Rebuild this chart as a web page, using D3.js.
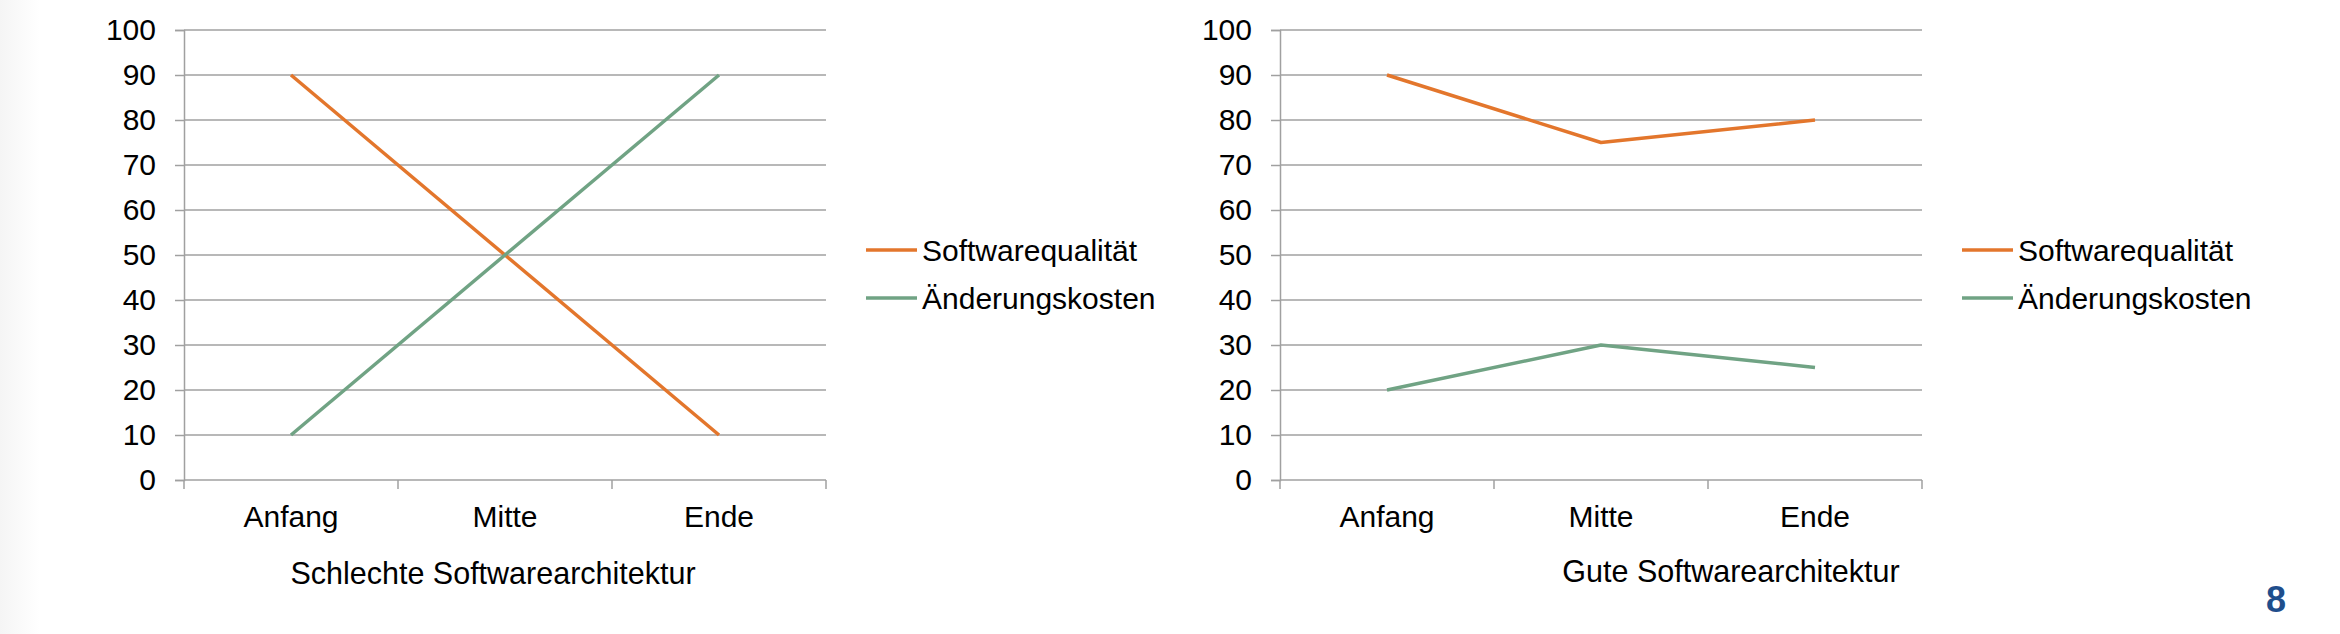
<!DOCTYPE html>
<html>
<head>
<meta charset="utf-8">
<script src="https://cdn.jsdelivr.net/npm/d3@7"></script>
<style>
  html, body { margin: 0; padding: 0; background: #fff; }
  svg { display: block; font-family: "Liberation Sans", Arial, sans-serif; }
</style>
</head>
<body>
<div id="chart"></div>
<script>
// Daten
const categories = ["Anfang", "Mitte", "Ende"];
const seriesNames = ["Softwarequalität", "Änderungskosten"];
const yTicks = [0, 10, 20, 30, 40, 50, 60, 70, 80, 90, 100];

const badQuality = [90, 50, 10];
const badCosts = [10, 50, 90];
const goodQuality = [90, 75, 80];
const goodCosts = [20, 30, 25];

const titles = ["Schlechte Softwarearchitektur", "Gute Softwarearchitektur"];
const pageNumber = "8";

const colors = ["#e3762c", "#70a384"];

const width = 2340, height = 634;

const svg = d3.select("#chart").append("svg")
    .attr("width", width).attr("height", height)
    .attr("viewBox", [0, 0, width, height]);

// leichter grauer Rand links wie auf der Folie
const defs = svg.append("defs");
const grad = defs.append("linearGradient").attr("id", "edge").attr("x1", 0).attr("x2", 1);
grad.append("stop").attr("offset", 0).attr("stop-color", "#f5f5f5");
grad.append("stop").attr("offset", 1).attr("stop-color", "#ffffff");
svg.append("rect").attr("width", width).attr("height", height).attr("fill", "#fff");
svg.append("rect").attr("width", 40).attr("height", height).attr("fill", "url(#edge)");

function drawChart(left, seriesData, title, titleX, titleY) {
    const plotW = 642, top = 30, bottom = 480;

    const x = d3.scaleBand().domain(categories).range([left, left + plotW]).paddingInner(0).paddingOuter(0);
    const y = d3.scaleLinear().domain([0, 100]).range([bottom, top]);

    const g = svg.append("g");

    // Gitterlinien + Y-Achse
    g.append("g").attr("transform", `translate(${left},0)`)
        .call(d3.axisLeft(y).tickValues(yTicks).tickSize(9).tickPadding(19))
        .call(ax => ax.select(".domain").attr("stroke", "#a0a0a0").attr("stroke-width", 1.5))
        .call(ax => ax.selectAll(".tick line").attr("stroke", "#a0a0a0").attr("stroke-width", 1.5))
        .call(ax => ax.selectAll(".tick text").attr("font-size", 30).attr("fill", "#000")
            .attr("font-family", "Liberation Sans, Arial, sans-serif"));

    g.append("g").selectAll("line").data(yTicks.filter(d => d > 0)).join("line")
        .attr("x1", left).attr("x2", left + plotW)
        .attr("y1", d => y(d)).attr("y2", d => y(d))
        .attr("stroke", "#a0a0a0").attr("stroke-width", 1.5);

    // X-Achse
    const xa = g.append("g").attr("transform", `translate(0,${bottom})`);
    xa.append("line").attr("x1", left).attr("x2", left + plotW)
        .attr("stroke", "#a0a0a0").attr("stroke-width", 1.5);
    const bounds = categories.map(c => x(c)).concat([left + plotW]);
    xa.selectAll(".xt").data(bounds).join("line").attr("class", "xt")
        .attr("x1", d => d).attr("x2", d => d).attr("y1", 0).attr("y2", 9)
        .attr("stroke", "#a0a0a0").attr("stroke-width", 1.5);
    xa.selectAll("text").data(categories).join("text")
        .attr("x", d => x(d) + x.bandwidth() / 2).attr("y", 47)
        .attr("text-anchor", "middle").attr("font-size", 30).attr("fill", "#000")
        .text(d => d);

    // Linien
    const line = d3.line()
        .x((d, i) => x(categories[i]) + x.bandwidth() / 2)
        .y(d => y(d));

    seriesData.forEach((vals, i) => {
        g.append("path").datum(vals)
            .attr("fill", "none").attr("stroke", colors[i]).attr("stroke-width", 3.5)
            .attr("stroke-linejoin", "round")
            .attr("d", line);
    });

    // Legende
    const legend = g.append("g").attr("transform", `translate(${left + plotW + 40}, 250)`);
    seriesNames.forEach((name, i) => {
        legend.append("line").attr("x1", 0).attr("x2", 51).attr("y1", i * 48).attr("y2", i * 48)
            .attr("stroke", colors[i]).attr("stroke-width", 3.5);
        legend.append("text").attr("x", 56).attr("y", i * 48).attr("dy", "0.36em")
            .attr("font-size", 30).attr("fill", "#000").text(name);
    });

    // Titel
    g.append("text").attr("x", titleX).attr("y", titleY)
        .attr("text-anchor", "middle").attr("font-size", 30.5).attr("fill", "#000")
        .text(title);
}

drawChart(184, [badQuality, badCosts], titles[0], 493, 584);
drawChart(1280, [goodQuality, goodCosts], titles[1], 1731, 582);

svg.append("text").attr("x", 2276).attr("y", 612)
    .attr("text-anchor", "middle").attr("font-size", 36).attr("font-weight", "bold")
    .attr("fill", "#1f4e8c").text(pageNumber);
</script>
</body>
</html>
